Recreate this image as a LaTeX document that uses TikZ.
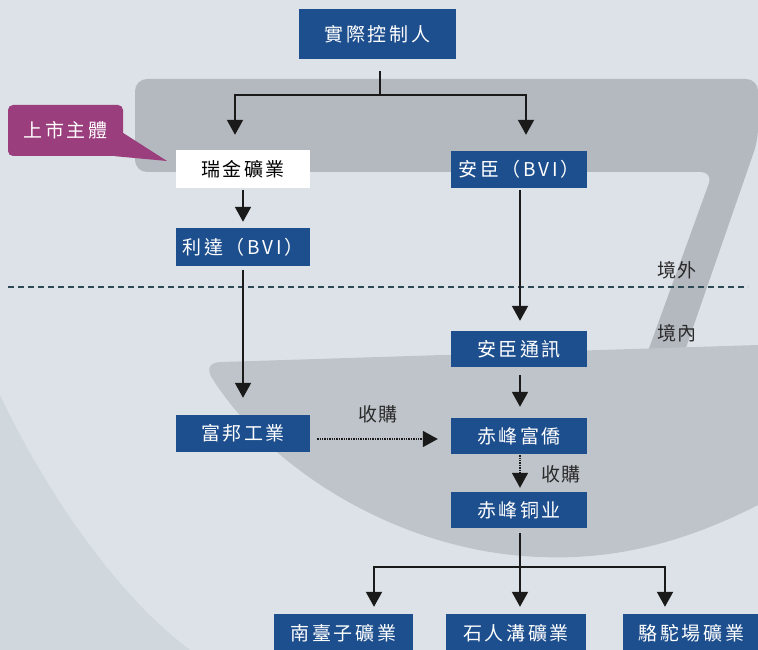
\documentclass[tikz,border=0pt]{standalone}
\usepackage{fontspec}
\setmainfont{Noto Sans CJK TC}
\usetikzlibrary{arrows.meta,calc}
\definecolor{boxblue}{HTML}{1D4E8D}
\definecolor{calloutpurple}{HTML}{9A3E7D}
\definecolor{linecol}{HTML}{1A1A1A}
\definecolor{txtcol}{HTML}{2B2B2B}
\definecolor{bgbase}{HTML}{DCE2E7}
\definecolor{bgleft}{HTML}{D0D7DD}
\definecolor{bgdark}{HTML}{B3B9BF}
\definecolor{bgmid}{HTML}{BEC4CA}
\definecolor{dashcol}{HTML}{2E4A55}
\begin{document}
\begin{tikzpicture}[x=1pt,y=-1pt,
  boxfont/.style={font=\fontsize{19}{19}\selectfont\addfontfeature{LetterSpace=14}},
  box/.style={boxfont,fill=boxblue,text=white,minimum width=#1,minimum height=37pt,inner sep=0pt},
  whitebox/.style={boxfont,fill=white,text=black,minimum width=#1,minimum height=38pt,inner sep=0pt},
  callout/.style={boxfont,fill=calloutpurple,text=white,rounded corners=5pt,minimum width=115pt,minimum height=51pt,inner sep=0pt},
  lbl/.style={font=\fontsize{19}{19}\selectfont\addfontfeature{LetterSpace=8},text=txtcol,inner sep=0pt},
  arr/.style={draw=linecol,line width=2pt,-{Triangle[width=16pt,length=15pt]}},
  plain/.style={draw=linecol,line width=2pt},
  dotarr/.style={draw=linecol,line width=1.6pt,dash pattern=on 1.3pt off 1.1pt,-{Triangle[width=16pt,length=15pt,sep=0pt]}},
  border/.style={draw=dashcol,line width=1.1pt,dash pattern=on 6pt off 4pt}
]
\useasboundingbox (0,0) rectangle (758,650);
% background
\fill[bgbase] (0,0) rectangle (758,650);
\fill[bgleft] (0,395) .. controls (40,480) and (110,590) .. (190,650) -- (0,650) -- cycle;
\fill[bgdark,rounded corners=12pt] (135,79) -- (758,79) -- (758,140) -- (680,365) -- (643,365) -- (713,172) -- (135,172) -- cycle;
\fill[bgmid] (222,362) -- (758,345) -- (758,505)
  .. controls (680,545) and (610,560) .. (540,557)
  .. controls (400,552) and (270,470) .. (212,378)
  .. controls (206,368) and (210,362) .. (222,362) -- cycle;
% border line
\coordinate (bl) at (8,287);
\coordinate (br) at (748,287);
\draw[border] (bl) -- (br);
\node[lbl] (jingwai) at (677,270) {境外};
\node[lbl] (jingnei) at (677,333) {境內};
% nodes
\node[box=157pt,minimum height=50pt] (ctrl) at (377.5,34) {實際控制人};
\node[whitebox=134pt] (ruijin) at (243,169) {瑞金礦業};
\node[box=136pt] (anchen) at (519,169.5) {安臣（BVI）};
\node[box=134pt,minimum height=38pt] (lida) at (243,247) {利達（BVI）};
\node[box=134pt] (fubang) at (243,433.5) {富邦工業};
\node[box=136pt,minimum height=36pt] (anchentx) at (519,349) {安臣通訊};
\node[box=136pt,minimum height=36pt] (fuqiao) at (519,436) {赤峰富僑};
\node[box=136pt,minimum height=36pt] (tongye) at (519,510) {赤峰铜业};
\node[box=139pt,minimum height=38pt] (nantaizi) at (343.5,633) {南臺子礦業};
\node[box=140pt,minimum height=38pt] (shiren) at (516,633) {石人溝礦業};
\node[box=137pt,minimum height=38pt] (luotuo) at (691.5,633) {駱駝場礦業};
\node[callout] (listed) at (65.5,130.5) {上市主體};
\coordinate (tailtip) at (167,161);
\fill[calloutpurple] ([yshift=-2.5pt]listed.east) -- (tailtip) -- ([xshift=-8pt]listed.south east) -- ([xshift=-4pt,yshift=4pt]listed.south east) -- cycle;
% connectors
\coordinate (topj) at (380,95);
\draw[plain] ([yshift=-12pt]ctrl.south -| topj) -- (topj);
\draw[arr,shorten >=15pt] (topj) -| ([xshift=-8pt]ruijin.north);
\draw[arr,shorten >=16pt] (topj) -| ([xshift=7pt]anchen.north);
\draw[arr,shorten <=2pt,shorten >=6pt] (ruijin) -- (lida);
\draw[arr,shorten <=4pt,shorten >=17pt] (lida) -- (fubang);
\draw[arr,shorten <=2pt,shorten >=10pt] ([xshift=1pt]anchen.south) -- ([xshift=1pt]anchentx.north);
\draw[arr,shorten <=8pt,shorten >=11pt] ([xshift=1pt]anchentx.south) -- ([xshift=1pt]fuqiao.north);
\draw[dotarr,shorten <=7pt,shorten >=13pt] ([yshift=-5.5pt]fubang.east) -- ([yshift=-5.5pt]fubang.east -| fuqiao.west);
\node[lbl] (shougou1) at (378,414) {收購};
\draw[dotarr,shorten <=1pt,shorten >=4pt] ([xshift=1pt]fuqiao.south) -- ([xshift=1pt]tongye.north);
\node[lbl] (shougou2) at (561,474) {收購};
\coordinate (botj) at (520,567);
\draw[arr,shorten <=5pt,shorten >=7pt] ([xshift=1pt]tongye.south) -- (botj) -- (botj |- shiren.north);
\draw[arr,shorten >=7pt] (botj) -| ([xshift=30.5pt]nantaizi.north);
\draw[arr,shorten >=7pt] (botj) -| ([xshift=-26.5pt]luotuo.north);
\end{tikzpicture}
\end{document}
